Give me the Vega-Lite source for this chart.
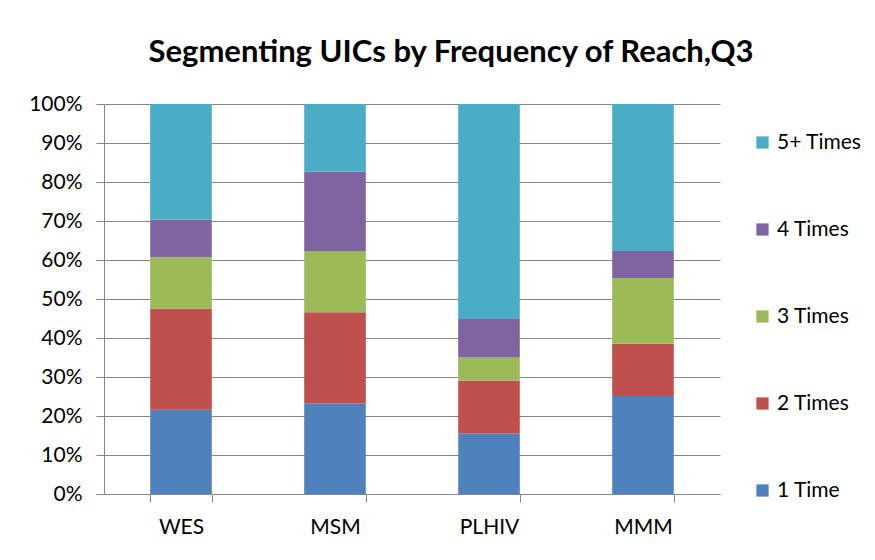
{
  "$schema": "https://vega.github.io/schema/vega-lite/v6.json",
  "autosize": "none",
  "width": 616,
  "height": 390,
  "padding": {"left": 104, "top": 104, "right": 155, "bottom": 66},
  "background": "white",
  "title": {
    "text": "Segmenting UICs by Frequency of Reach,Q3",
    "font": "Lato",
    "fontSize": 31,
    "fontWeight": "bold",
    "color": "#000000",
    "anchor": "middle",
    "frame": "group",
    "dx": 39,
    "dy": 40,
    "baseline": "alphabetic",
    "offset": 40
  },
  "data": {
    "values": [
      {"group": "WES", "freq": "1 Time", "share": 0.216},
      {"group": "WES", "freq": "2 Times", "share": 0.259},
      {"group": "WES", "freq": "3 Times", "share": 0.132},
      {"group": "WES", "freq": "4 Times", "share": 0.096},
      {"group": "WES", "freq": "5+ Times", "share": 0.297},
      {"group": "MSM", "freq": "1 Time", "share": 0.232},
      {"group": "MSM", "freq": "2 Times", "share": 0.234},
      {"group": "MSM", "freq": "3 Times", "share": 0.157},
      {"group": "MSM", "freq": "4 Times", "share": 0.203},
      {"group": "MSM", "freq": "5+ Times", "share": 0.174},
      {"group": "PLHIV", "freq": "1 Time", "share": 0.155},
      {"group": "PLHIV", "freq": "2 Times", "share": 0.136},
      {"group": "PLHIV", "freq": "3 Times", "share": 0.059},
      {"group": "PLHIV", "freq": "4 Times", "share": 0.099},
      {"group": "PLHIV", "freq": "5+ Times", "share": 0.551},
      {"group": "MMM", "freq": "1 Time", "share": 0.251},
      {"group": "MMM", "freq": "2 Times", "share": 0.134},
      {"group": "MMM", "freq": "3 Times", "share": 0.169},
      {"group": "MMM", "freq": "4 Times", "share": 0.069},
      {"group": "MMM", "freq": "5+ Times", "share": 0.377}
    ]
  },
  "mark": {"type": "bar"},
  "encoding": {
    "x": {
      "field": "group",
      "type": "nominal",
      "sort": ["WES", "MSM", "PLHIV", "MMM"],
      "scale": {"paddingInner": 0.6, "paddingOuter": 0.3},
      "axis": {
        "title": null,
        "labelAngle": 0,
        "labelFont": "Lato",
        "labelFontSize": 21,
        "labelColor": "#000000",
        "labelPadding": 14,
        "tickBand": "extent",
        "tickSize": 8,
        "tickColor": "#868686",
        "domainColor": "#868686",
        "grid": false
      }
    },
    "y": {
      "field": "share",
      "type": "quantitative",
      "stack": "zero",
      "scale": {"domain": [0, 1], "nice": false},
      "axis": {
        "title": null,
        "format": ".0%",
        "values": [0, 0.1, 0.2, 0.3, 0.4, 0.5, 0.6, 0.7, 0.8, 0.9, 1],
        "labelFont": "Lato",
        "labelFontSize": 21,
        "labelColor": "#000000",
        "labelPadding": 14,
        "tickSize": 8,
        "tickColor": "#868686",
        "domainColor": "#868686",
        "grid": true,
        "gridColor": "#868686",
        "gridWidth": 1
      }
    },
    "color": {
      "field": "freq",
      "type": "nominal",
      "scale": {
        "domain": ["5+ Times", "4 Times", "3 Times", "2 Times", "1 Time"],
        "range": ["#4BACC6", "#8064A2", "#9BBB59", "#C0504D", "#4F81BD"]
      },
      "legend": {
        "title": null,
        "orient": "none",
        "legendX": 648,
        "legendY": 28,
        "symbolType": "square",
        "symbolSize": 150,
        "symbolStrokeWidth": 0,
        "labelFont": "Lato",
        "labelFontSize": 21,
        "labelColor": "#000000",
        "labelOffset": 4,
        "rowPadding": 65
      }
    },
    "order": {"field": "freq", "sort": "ascending"}
  },
  "config": {
    "view": {"stroke": null},
    "axis": {"domainWidth": 1, "tickWidth": 1}
  }
}
